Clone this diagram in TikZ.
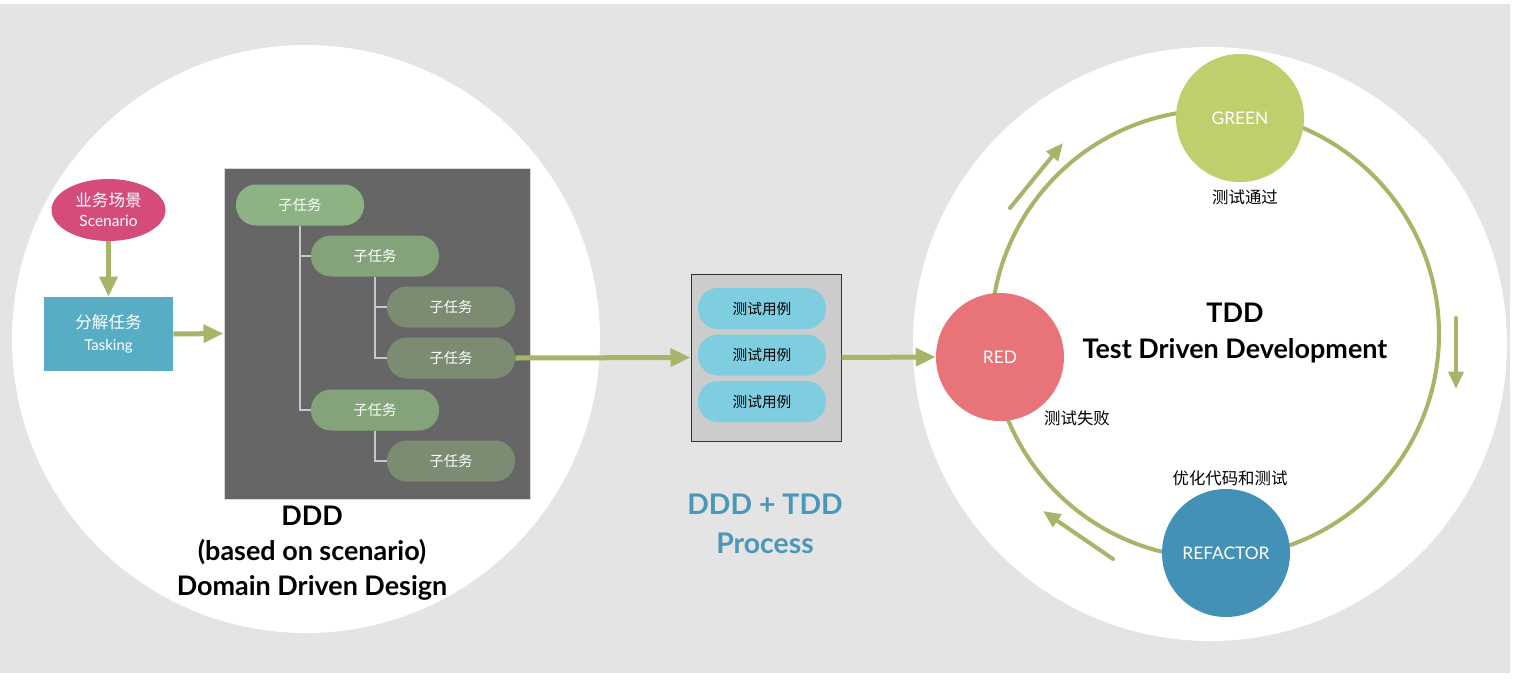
\documentclass[tikz,border=0pt]{standalone}
\usepackage{fontspec}
\setmainfont{Lato}
\newfontfamily\cjk{Noto Sans CJK SC}
\usepackage{tikz}
\usetikzlibrary{shapes.geometric,arrows.meta,positioning}
\definecolor{bggray}{HTML}{E4E4E4}
\definecolor{scpink}{HTML}{D54B7C}
\definecolor{tkteal}{HTML}{57AEC4}
\definecolor{darkbox}{HTML}{666666}
\definecolor{subA}{HTML}{8DB384}
\definecolor{subB}{HTML}{84A37B}
\definecolor{subC}{HTML}{7B8C73}
\definecolor{olive}{HTML}{A6B567}
\definecolor{casecol}{HTML}{7ECDE0}
\definecolor{boxgray}{HTML}{CCCCCC}
\definecolor{procblue}{HTML}{4A97B9}
\definecolor{greencol}{HTML}{BFCF6E}
\definecolor{redcol}{HTML}{E8747A}
\definecolor{refcol}{HTML}{4391B6}

\begin{document}
\begin{tikzpicture}[x=0.75pt,y=-0.75pt,
	pill/.style={rectangle, rounded corners=15pt, minimum width=96pt, minimum height=30.75pt, inner sep=0pt},
	sub/.style={pill, text=white, font=\cjk\fontsize{10.8}{12}\selectfont},
	case/.style={pill, fill=casecol, text=black, font=\cjk\fontsize{11}{12}\selectfont},
	stage/.style={circle, minimum size=96pt, inner sep=0pt, text=white, font=\fontsize{13}{14}\selectfont},
	note/.style={font=\cjk\fontsize{12.3}{14}\selectfont},
	flow/.style={-{Triangle[length=15pt,width=13pt]}, line width=3.75pt, draw=olive},
	turn/.style={-{Triangle[length=13pt,width=11pt]}, line width=3pt, line cap=round, draw=olive},
	branch/.style={draw=black!22, line width=1.1pt},
	title/.style={font=\bfseries\fontsize{20.2}{26.25}\selectfont, align=center}]

	\useasboundingbox (0,0) rectangle (1516,686);
	\fill[white] (0,0) rectangle (1516,686);
	\fill[bggray] (0,4) rectangle (1510,673);
	\fill[white] (306,339) circle[radius=220.5pt];
	\fill[white] (1210,344) circle[radius=222.75pt];

	% DDD side
	\node (S) [ellipse, fill=scpink, minimum width=85.5pt, minimum height=46.5pt, inner sep=0pt, text=white, align=center, font=\fontsize{11.6}{16.5}\selectfont] at (108.5,210) {{\cjk\fontsize{12.4}{16.5}\selectfont 业务场景}\\[-1.5pt]Scenario};
	\node (T) [rectangle, fill=tkteal, minimum width=96.75pt, minimum height=55.5pt, text=white, align=center, font=\fontsize{11.2}{16}\selectfont] at (108.5,334) {{\cjk\fontsize{12.4}{16}\selectfont 分解任务}\\Tasking};
	\node (D) [rectangle, fill=darkbox, draw=black!15, line width=0.75pt, minimum width=229.5pt, minimum height=248.25pt] at (377,333.5) {};

	\node (a) [sub, fill=subA] at (300,205) {子任务};
	\node (b) [sub, fill=subB] at (375,256) {子任务};
	\node (c) [sub, fill=subC] at (451,307) {子任务};
	\node (d) [sub, fill=subC] at (451,358) {子任务};
	\node (e) [sub, fill=subB] at (375,410) {子任务};
	\node (f) [sub, fill=subC] at (451,461) {子任务};

	\draw[branch] (a.south) |- (b.west);
	\draw[branch] (a.south) |- (e.west);
	\draw[branch] (b.south) |- (c.west);
	\draw[branch] (b.south) |- (d.west);
	\draw[branch] (e.south) |- (f.west);

	\draw[flow] (S) -- (T);
	\draw[flow] (T.east) -- (D.west);

	\node (L) [title] at (312,553) {DDD\\(based on scenario)\\Domain Driven Design};

	% test cases
	\node (M) [rectangle, fill=boxgray, draw=black!80, line width=0.75pt, minimum width=112.5pt, minimum height=125.25pt] at (766,357.5) {};
	\node (m1) [case] at (762,308.5) {测试用例};
	\node (m2) [case] at (762,355) {测试用例};
	\node (m3) [case] at (762,401.5) {测试用例};
	\node (P) [title, text=procblue, font=\bfseries\fontsize{21.3}{29}\selectfont] at (765,524) {DDD + TDD\\Process};

	% TDD cycle
	\coordinate (O) at (1215,334);
	\draw[draw=olive, line width=3pt] (O) circle[radius=168pt];
	\node (G) [stage, fill=greencol] at (1240,118) {GREEN};
	\node (R) [stage, fill=redcol] at (1000,357) {RED};
	\node (F) [stage, fill=refcol] at (1226,553) {REFACTOR};

	\node (g) [note] at (1245,197) {测试通过};
	\node (r) [note] at (1077,418) {测试失败};
	\node (h) [note] at (1230,478) {优化代码和测试};

	\node (X) [title, font=\bfseries\fontsize{20.2}{27}\selectfont] at (1235,333) {TDD\\Test Driven Development};

	\draw[flow] (d.east) -- (M.west);
	\draw[flow] (M.east) -- (R.west);

	\coordinate (u1) at (1010,208);
	\coordinate (u2) at (1063,143);
	\coordinate (v1) at (1456,318);
	\coordinate (v2) at (1456,389);
	\coordinate (w1) at (1113,559);
	\coordinate (w2) at (1043,511);
	\draw[turn] (u1) -- (u2);
	\draw[turn] (v1) -- (v2);
	\draw[turn] (w1) -- (w2);

\end{tikzpicture}
\end{document}
